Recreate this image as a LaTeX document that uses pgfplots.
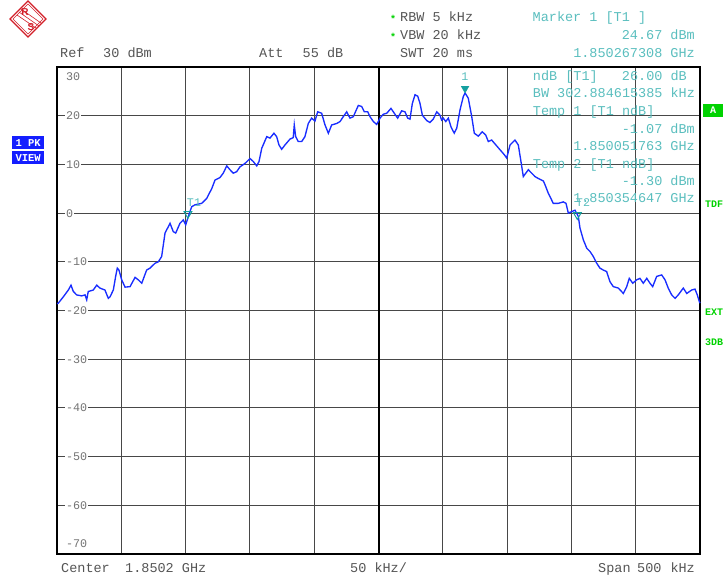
\documentclass[border=0pt]{standalone}
\usepackage{pgfplots}
\pgfplotsset{compat=1.18}
\usepackage{fontspec}
\setmainfont{Liberation Mono}
\newfontfamily\mono{Liberation Mono}
\newfontfamily\sans{Liberation Sans}
\definecolor{hdr}{RGB}{85,85,85}
\definecolor{tickc}{RGB}{115,115,115}
\definecolor{cy}{RGB}{90,190,190}
\definecolor{mk}{RGB}{20,160,160}
\definecolor{grn}{RGB}{0,210,0}
\definecolor{trace}{RGB}{25,45,255}
\definecolor{rsred}{RGB}{210,30,40}
\definecolor{boxblue}{RGB}{20,30,255}
\newcommand{\hf}{\mono\fontsize{13.5}{16}\selectfont}
\newcommand{\tf}{\mono\fontsize{11.7}{14}\selectfont}
\begin{document}
\begin{tikzpicture}[x=1pt,y=1pt]
\begin{axis}[at={(57pt,24pt)},anchor=south west,scale only axis,width=643pt,height=487pt,
  xmin=-250,xmax=250,ymin=-70,ymax=30,
  xtick={-200,-150,-100,-50,50,100,150,200},
  ytick={-60,-50,...,20},
  extra x ticks={0}, extra x tick labels={},
  extra x tick style={major grid style={black,line width=2pt}},
  xticklabels={},yticklabels={},
  major tick length=0pt,
  grid=major, major grid style={black!72,line width=0.9pt},
  axis line style={black,line width=2.4pt},
  clip=false]
\addplot[trace, line width=1.35pt, sharp plot] coordinates {
(-250,-18.6)(-249.0,-18.5)(-245.1,-17.2)(-241.2,-15.8)(-239.1,-14.8)(-237.3,-16.1)(-234.7,-16.8)
(-230.8,-17.0)(-228.2,-16.8)(-226.9,-17.8)(-225.7,-16.1)(-221.8,-15.8)(-219.1,-14.8)(-216.6,-15.4)
(-212.7,-15.8)(-210.1,-17.5)(-208.8,-17.2)(-206.2,-15.8)(-204.4,-13.0)(-203.1,-11.3)(-201.8,-11.7)
(-199.7,-13.7)(-197.1,-15.2)(-193.2,-15.1)(-189.3,-13.2)(-186.8,-13.7)(-184.1,-14.4)(-180.3,-11.7)
(-177.7,-11.3)(-173.8,-10.3)(-171.2,-10.0)(-168.6,-8.9)(-166.0,-4.1)(-162.1,-2.1)(-159.6,-3.8)
(-157.7,-4.1)(-154.4,-2.1)(-151.8,-1.4)(-149.9,-2.4)(-147.9,-0.7)(-145.3,1.3)(-142.7,1.7)
(-137.5,2.0)(-133.6,3.0)(-132.3,3.7)(-129.7,5.0)(-127.1,6.8)(-123.3,7.3)(-120.7,8.2)(-118.0,9.7)
(-115.5,8.9)(-112.9,8.2)(-110.3,8.5)(-107.7,9.5)(-103.8,10.2)(-99.9,11.2)(-97.4,10.6)(-94.7,9.7)
(-92.9,10.6)(-90.8,13.3)(-86.9,15.7)(-84.4,15.4)(-81.3,16.4)(-79.2,15.7)(-77.4,14.0)(-75.3,13.1)
(-72.7,14.0)(-68.8,15.2)(-66.3,15.5)(-65.5,18.1)(-64.4,15.7)(-62.4,14.7)(-59.7,14.7)(-57.2,15.7)
(-54.6,18.4)(-52.0,19.5)(-49.4,18.9)(-47.3,20.8)(-44.2,20.5)(-41.6,18.1)(-39.0,16.4)(-36.4,18.1)
(-32.5,18.4)(-29.9,18.8)(-27.4,19.8)(-24.7,20.8)(-22.2,19.5)(-19.6,19.8)(-15.7,22.1)(-13.1,21.9)
(-11.0,20.8)(-8.4,20.8)(-6.6,19.8)(-4.0,18.8)(-1.4,18.2)(1.2,19.5)(3.7,20.3)(6.4,20.5)(9.7,21.5)
(12.3,20.5)(14.9,19.5)(18.0,21.0)(20.6,20.8)(22.7,19.5)(24.5,19.3)(26.3,22.5)(28.4,24.3)(30.5,24.0)
(32.3,22.5)(34.1,20.1)(37.5,19.0)(40.0,18.6)(42.6,19.3)(45.3,20.8)(47.8,20.1)(49.1,19.1)(50.4,19.5)
(52.3,18.8)(54.3,19.5)(56.4,17.7)(58.9,16.4)(60.8,17.4)(63.4,21.2)(65.9,23.9)(67.3,24.67)(69.8,23.6)
(72.5,19.8)(74.5,16.4)(77.6,15.8)(80.7,16.7)(83.4,16.0)(85.4,14.7)(88.0,15.0)(90.6,14.2)(94.5,13.0)
(97.8,12.0)(99.7,11.3)(102.3,14.0)(106.1,15.0)(108.7,14.0)(110.6,10.9)(112.6,7.5)(116.5,8.9)
(119.1,8.2)(121.7,7.5)(124.3,7.1)(128.2,6.6)(129.5,5.8)(132.0,4.1)(135.9,2.0)(139.8,2.0)(143.7,2.3)
(145.8,2.0)(147.6,0.0)(150.2,0.3)(152.8,0.6)(155.4,-0.7)(156.7,-3.1)(159.3,-5.5)(161.9,-7.2)
(164.5,-7.9)(167.0,-8.9)(169.7,-10.3)(172.2,-11.3)(174.8,-11.7)(177.4,-12.0)(180.0,-14.1)
(182.6,-15.1)(186.5,-15.4)(190.4,-16.5)(193.0,-15.1)(195.0,-13.4)(197.7,-14.4)(200.8,-13.7)
(203.3,-13.4)(205.9,-14.4)(208.6,-13.4)(211.1,-14.4)(213.2,-15.1)(216.3,-13.0)(220.2,-12.7)
(222.8,-13.7)(225.3,-15.4)(228.0,-16.8)(230.6,-17.5)(233.1,-16.8)(237.0,-15.4)(239.7,-16.5)
(243.5,-15.8)(246.1,-15.6)(247.9,-16.8)(249.5,-18.2)(250,-18.5)
};
\addplot[mk, only marks, mark=triangle*, mark size=4.5pt,
  mark options={draw=mk, fill=mk, yshift=4.5pt, rotate=180}] coordinates {(67.3,24.67)};
\addplot[mk, only marks, mark=triangle, mark size=4.5pt,
  mark options={draw=mk, line width=1pt, yshift=4.5pt, rotate=180}] coordinates {(-148.2,-1.07)(154.6,-1.30)};
\end{axis}
% y tick labels
\begin{scope}[every node/.style={anchor=west, fill=white, inner xsep=1pt, inner ysep=0.5pt, text=tickc, font=\tf}]
\node at (65,501) {30};
\node at (65,462) {20};
\node at (65,413.3) {10};
\node at (65,364.7) {0};
\node at (65,316) {-10};
\node at (65,267.3) {-20};
\node at (65,218.6) {-30};
\node at (65,170) {-40};
\node at (65,121.3) {-50};
\node at (65,72.6) {-60};
\node at (65,34) {-70};
\end{scope}
% marker labels
\node[text=cy, font=\tf, inner sep=0] at (465,501) {1};
\node[text=cy, font=\tf, inner sep=0] at (194,375) {T1};
\node[text=cy, font=\tf, inner sep=0] at (583,375) {T2};
% header
\begin{scope}[every node/.style={inner sep=0, font=\hf}]
\node[anchor=base west, text=hdr] at (60,520.5) {Ref};
\node[anchor=base west, text=hdr] at (103,520.5) {30 dBm};
\node[anchor=base west, text=hdr] at (259,520.5) {Att};
\node[anchor=base west, text=hdr] at (302.5,520.5) {55 dB};
\node[anchor=base west, text=hdr] at (400,556.5) {RBW 5 kHz};
\node[anchor=base west, text=hdr] at (400,538.5) {VBW 20 kHz};
\node[anchor=base west, text=hdr] at (400,520.5) {SWT 20 ms};
\node[anchor=base west, text=cy] at (532.5,556.5) {Marker 1 [T1 ]};
\node[anchor=base east, text=cy] at (695,538.5) {24.67 dBm};
\node[anchor=base east, text=cy] at (695,520.5) {1.850267308 GHz};
% in-plot marker info
\node[anchor=base west, text=cy] at (532.7,497.8) {ndB [T1]};
\node[anchor=base east, text=cy] at (687,497.8) {26.00 dB};
\node[anchor=base west, text=cy] at (532.7,480.2) {BW 302.884615385 kHz};
\node[anchor=base west, text=cy] at (532.7,462.5) {Temp 1 [T1 ndB]};
\node[anchor=base east, text=cy] at (695,444.5) {-1.07 dBm};
\node[anchor=base east, text=cy] at (695,427.5) {1.850051763 GHz};
\node[anchor=base west, text=cy] at (532.7,409.5) {Temp 2 [T1 ndB]};
\node[anchor=base east, text=cy] at (695,392.8) {-1.30 dBm};
\node[anchor=base east, text=cy] at (695,375.8) {1.850354647 GHz};
% footer
\node[anchor=base west, text=hdr] at (61,5.5) {Center};
\node[anchor=base west, text=hdr] at (125,5.5) {1.8502 GHz};
\node[anchor=base west, text=hdr] at (350,5.5) {50 kHz/};
\node[anchor=base west, text=hdr] at (598,5.5) {Span};
\node[anchor=base west, text=hdr] at (637,5.5) {500};
\node[anchor=base east, text=hdr] at (695,5.5) {kHz};
\end{scope}
% green stars
\node[text=grn, font=\mono\bfseries\fontsize{10}{12}\selectfont, inner sep=0] at (393,559) {*};
\node[text=grn, font=\mono\bfseries\fontsize{10}{12}\selectfont, inner sep=0] at (393,541) {*};
% left boxes
\node[fill=boxblue, text=white, font=\mono\bfseries\fontsize{10.5}{12}\selectfont, anchor=north west,
  minimum width=32pt, minimum height=13pt, inner sep=0] at (12,442) {1 PK};
\node[fill=boxblue, text=white, font=\mono\bfseries\fontsize{10.5}{12}\selectfont, anchor=north west,
  minimum width=32pt, minimum height=13pt, inner sep=0] at (12,427) {VIEW};
% right side
\node[fill=grn, text=white, font=\mono\bfseries\fontsize{10}{12}\selectfont, anchor=north west,
  minimum width=20pt, minimum height=13pt, inner sep=0] at (703,474) {A};
\begin{scope}[every node/.style={anchor=base west, inner sep=0, text=grn, font=\mono\bfseries\fontsize{10}{12}\selectfont}]
\node at (705,370.5) {TDF};
\node at (705,262.5) {EXT};
\node at (705,232.5) {3DB};
\end{scope}
% R&S logo
\begin{scope}[rsred]
\draw[line width=1.1pt] (28,577)--(46,559)--(28,541)--(10,559)--cycle;
\draw[line width=0.6pt] (28,574)--(43,559)--(28,544)--(13,559)--cycle;
\draw[line width=0.6pt] (17,563)--(36,550);
\draw[line width=0.6pt] (19,566)--(39,552);
\draw[line width=0.6pt] (21,569)--(41,555);
\node[font=\sans\bfseries\fontsize{10}{10}\selectfont, inner sep=0] at (25,566) {R};
\node[font=\sans\bfseries\fontsize{10}{10}\selectfont, inner sep=0] at (31,551) {S};
\end{scope}
\pgfresetboundingbox
\useasboundingbox (0,0) rectangle (725,578);
\end{tikzpicture}
\end{document}
